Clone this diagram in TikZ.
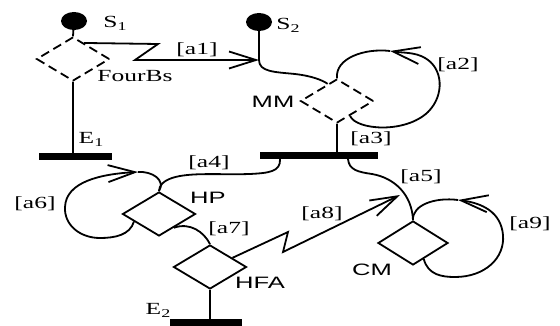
\documentclass[tikz,border=0pt]{standalone}
\usepackage{fontspec}
\setmainfont{Liberation Serif}
\newfontfamily\diagsans{Liberation Sans}
\usepackage{graphicx}
\usetikzlibrary{shapes.geometric,arrows.meta,calc}

% label helpers: wide serif labels, wide sans state names, lowered indices
\newcommand{\serlab}[1]{\scalebox{1.5}[1]{\fontsize{17}{17}\selectfont #1}}
\newcommand{\sanlab}[1]{\scalebox{1.55}[1]{\diagsans\fontsize{16.5}{16.5}\selectfont #1}}
\newcommand{\subtxt}[1]{\raisebox{-3pt}{\fontsize{12}{12}\selectfont #1}}

\begin{document}
\begin{tikzpicture}[x=1pt,y=-1pt,
  line width=1.8pt,
  state/.style={diamond, draw, line width=1.8pt, minimum width=73pt,
    minimum height=44pt, inner sep=0pt},
  virt/.style={state, dash pattern=on 9pt off 5pt},
  bar/.style={fill=black, inner sep=0pt, outer sep=0pt, minimum height=7pt},
  dot/.style={ellipse, fill=black, inner sep=0pt, outer sep=0pt,
    minimum width=26pt, minimum height=18pt},
  lbl/.style={inner sep=0pt},
  tip/.style={-{Straight Barb[length=27pt,width=17pt]}},
]
\useasboundingbox (0,0) rectangle (560,326);

% start points
\node[dot] (s1) at (74,21) {};
\node[dot] (s2) at (259,22) {};

% states
\node[virt] (fb) at (73,59) {};
\node[virt] (mm) at (337,101) {};
\node[state] (hp) at (159,214) {};
\node[state] (hfa) at (210,267) {};
\node[state, minimum width=70pt] (cm) at (413,243) {};

% bars
\node[bar, minimum width=73pt] (e1) at (75.5,156.5) {};
\node[bar, minimum width=118pt] (b2) at (319,155.5) {};
\node[bar, minimum width=72pt] (e2) at (206,322.5) {};

% helper points
\coordinate (j2) at (259,60);
\coordinate (a4s) at ($(b2.south west)+(20,0)$);
\coordinate (a5s) at ($(b2.south east)+(-30,0)$);
\coordinate (a2t) at (390,51);
\coordinate (a6t) at (138,172);
\coordinate (a9t) at (458,200);
\coordinate (a8t) at (400,195);

% plain links
\draw (s1) -- (fb.north);
\draw (fb.south) -- (fb.south |- e1.north);
\draw (mm.south) -- (mm.south |- b2.north);
\draw (hfa.south) -- (hfa.south |- e2.north);
\draw (s2) -- (j2) .. controls (259,72) and (275,72) .. (295,74)
  .. controls (312,76) and (322,80) .. ($(mm.west)!0.75!(mm.north)$);

% [a1]
\draw[tip] ($(fb.north)!0.3!(fb.east)$) -- (158,44) -- (135,60) -- (j2);

% [a2]
\draw[tip] ($(mm.south)!0.35!(mm.east)$) .. controls (356,130) and (405,134) .. (428,112)
  .. controls (445,95) and (443,68) .. (425,58) .. controls (415,52) and (403,53) .. (a2t);
\draw (a2t) .. controls (365,48) and (335,58) .. (mm.north);

% [a4]
\draw (a4s) .. controls (281,172) and (268,173) .. (250,174)
  .. controls (220,175) and (190,172) .. (172,178)
  .. controls (163,181) and (159,186) .. (hp.north);

% [a5]
\draw (a5s) .. controls (349,170) and (358,172) .. (372,174)
  .. controls (395,178) and (412,195) .. (cm.north);

% [a6]
\draw[tip] ($(hp.west)!0.33!(hp.south)$) .. controls (130,235) and (115,238) .. (100,238)
  .. controls (80,238) and (64,225) .. (65,207)
  .. controls (66,182) and (100,174) .. (a6t);
\draw (a6t) .. controls (152,171) and (166,180) .. (hp.north);

% [a7]
\draw ($(hp.south)!0.4!(hp.east)$) .. controls (190,222) and (204,232) .. (hfa.north);

% [a8]
\draw[tip] ($(hfa.north)!0.6!(hfa.east)$) -- (288,232) -- (283,252) -- (a8t);

% [a9]
\draw[tip] ($(cm.south)!0.3!(cm.east)$) .. controls (428,275) and (442,277) .. (455,277)
  .. controls (485,277) and (505,258) .. (503,235)
  .. controls (501,212) and (482,203) .. (a9t);
\draw (a9t) .. controls (435,197) and (412,205) .. (cm.north);

% labels
\node[lbl] (ls1) at (115,23) {\serlab{S\subtxt{1}}};
\node[lbl] (ls2) at (288,25) {\serlab{S\subtxt{2}}};
\node[lbl] (le1) at (91,139) {\serlab{E\subtxt{1}}};
\node[lbl] (le2) at (158,310) {\serlab{E\subtxt{2}}};
\node[lbl] (lfb) at (135,76) {\serlab{FourBs}};
\node[lbl] (l1) at (197,50) {\serlab{[a1]}};
\node[lbl] (l2) at (458,65) {\serlab{[a2]}};
\node[lbl] (l3) at (371,139) {\serlab{[a3]}};
\node[lbl] (l4) at (209,163) {\serlab{[a4]}};
\node[lbl] (l5) at (421,177) {\serlab{[a5]}};
\node[lbl] (l6) at (35,204) {\serlab{[a6]}};
\node[lbl] (l7) at (229,229) {\serlab{[a7]}};
\node[lbl] (l8) at (322,214) {\serlab{[a8]}};
\node[lbl] (l9) at (530,224) {\serlab{[a9]}};
\node[lbl] (lmm) at (273,102) {\sanlab{MM}};
\node[lbl] (lhp) at (208,198) {\sanlab{HP}};
\node[lbl] (lhfa) at (260,283) {\sanlab{HFA}};
\node[lbl] (lcm) at (372,270) {\sanlab{CM}};
\end{tikzpicture}
\end{document}
